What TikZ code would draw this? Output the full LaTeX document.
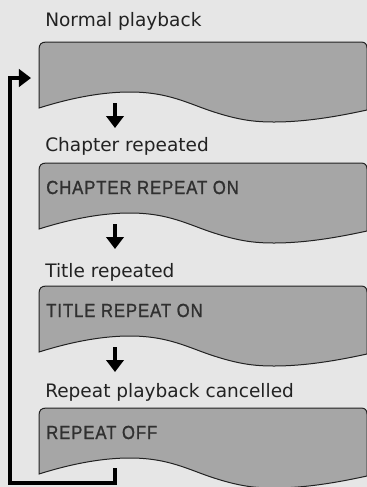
\documentclass[tikz,border=0pt]{standalone}
\usepackage{fontspec}
\setmainfont{DejaVu Sans}
\newfontfamily\osdfont[FakeStretch=0.88,FakeBold=1.2,LetterSpace=5]{Liberation Sans}
\usepackage{xcolor}
\usetikzlibrary{positioning,calc,arrows.meta}

\begin{document}
\begin{tikzpicture}[
    x=0.75pt, y=-0.75pt,
    modename/.style={anchor=base west, inner sep=0pt, text=nametext,
                     font=\fontsize{13.9}{16}\selectfont},
    osd/.style={anchor=base west, inner sep=0pt, text=osdtext,
                font=\osdfont\fontsize{14.2}{16}\selectfont},
    screenbox/.style={anchor=north west, inner sep=0pt,
                      minimum width=246pt, minimum height=60pt},
    screenline/.style={draw=edge, fill=screenfill, line width=0.75pt},
    flow/.style={-{Triangle[length=9pt,width=13pt]}, line width=3pt},
    loopback/.style={flow, line join=miter},
  ]
  \definecolor{pagefill}{HTML}{E6E6E6}
  \definecolor{screenfill}{HTML}{A6A6A6}
  \definecolor{edge}{HTML}{222222}
  \definecolor{nametext}{HTML}{222222}
  \definecolor{osdtext}{HTML}{303030}

  \useasboundingbox (0,0) rectangle (367,487);
  \fill[pagefill] (0,0) rectangle (367,487);

  % Pantalla: nodo vacio + contorno ondulado (px, origen arriba-izquierda)
  \newcommand{\screen}[2]{%
    \node[screenbox] (#1) at (39,#2) {};
    \begin{scope}[shift={(#1.north west)}]
      \draw[screenline] (0,66) -- (0,8) .. controls (0,2) and (2,0) .. (8,0)
        -- (322,0) .. controls (326,0) and (328,2) .. (328,6) -- (328,68)
        .. controls (305,73) and (270,80) .. (235,80)
        .. controls (215,80) and (200,78) .. (175,70)
        .. controls (150,62) and (130,50) .. (91,50)
        .. controls (65,50) and (35,55) .. (0,66) -- cycle;
    \end{scope}}

  % ======================== REPRODUCCION =====================
  \node[modename] (n1) at (45,26) {Normal playback};
  \screen{s1}{42}

  % ========================= CAPITULO ========================
  \node[modename] (n2) at (45,151) {Chapter repeated};
  \screen{s2}{163}
  \node[osd] (t2) at ($(s2.north west)+(7,31)$) {CHAPTER REPEAT ON};

  % ========================== TITULO =========================
  \node[modename] (n3) at (45,277) {Title repeated};
  \screen{s3}{286}
  \node[osd] (t3) at ($(s3.north west)+(7,31)$) {TITLE REPEAT ON};

  % ======================== CANCELADO ========================
  \node[modename] (n4) at (45,397) {Repeat playback cancelled};
  \screen{s4}{408}
  \node[osd] (t4) at ($(s4.north west)+(7,31)$) {REPEAT OFF};

  % ========================== FLECHAS ========================
  \coordinate (a1) at ($(s1.north west)+(76,61)$);
  \coordinate (b1) at ($(s1.north west)+(76,86)$);
  \coordinate (a2) at ($(s2.north west)+(76,61)$);
  \coordinate (b2) at ($(s2.north west)+(76,86)$);
  \coordinate (a3) at ($(s3.north west)+(76,61)$);
  \coordinate (b3) at ($(s3.north west)+(76,86)$);
  \draw[flow] (a1) -- (b1);
  \draw[flow] (a2) -- (b2);
  \draw[flow] (a3) -- (b3);
  % Retorno: de la ultima pantalla a la primera
  \coordinate (l0) at ($(s4.north west)+(76,60)$);
  \coordinate (lb) at (10,483);
  \coordinate (l1) at ($(s1.north west)+(-8,36)$);
  \draw[loopback] (l0) |- (lb) |- (l1);
\end{tikzpicture}
\end{document}
